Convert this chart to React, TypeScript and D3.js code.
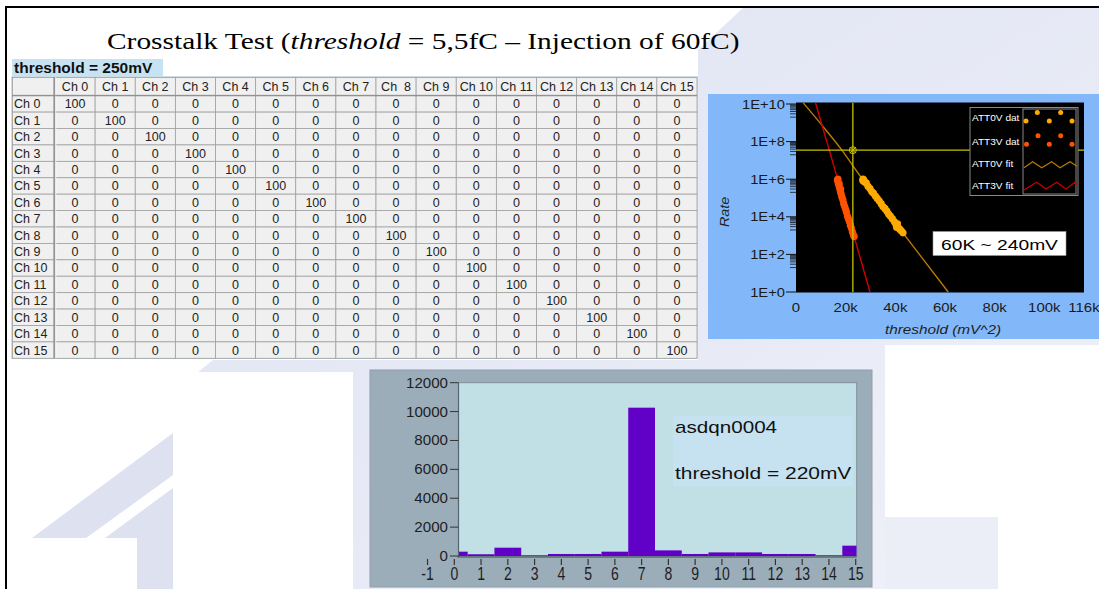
import React from 'react';
import * as d3 from 'd3';

const W = 1099;
const H = 589;

// ---------- Title ----------
const titleBefore = 'Crosstalk Test (';
const titleItalic = 'threshold';
const titleAfter = ' = 5,5fC – Injection of 60fC)';

// ---------- Crosstalk table ----------
const tableCaption = 'threshold = 250mV';
const rowLabels = ['Ch 0', 'Ch 1', 'Ch 2', 'Ch 3', 'Ch 4', 'Ch 5', 'Ch 6', 'Ch 7', 'Ch 8', 'Ch 9', 'Ch 10', 'Ch 11', 'Ch 12', 'Ch 13', 'Ch 14', 'Ch 15'];
const colLabels = ['Ch 0', 'Ch 1', 'Ch 2', 'Ch 3', 'Ch 4', 'Ch 5', 'Ch 6', 'Ch 7', 'Ch  8', 'Ch 9', 'Ch 10', 'Ch 11', 'Ch 12', 'Ch 13', 'Ch 14', 'Ch 15'];
const crosstalkMatrix: number[][] = [
  [100, 0, 0, 0, 0, 0, 0, 0, 0, 0, 0, 0, 0, 0, 0, 0],
  [0, 100, 0, 0, 0, 0, 0, 0, 0, 0, 0, 0, 0, 0, 0, 0],
  [0, 0, 100, 0, 0, 0, 0, 0, 0, 0, 0, 0, 0, 0, 0, 0],
  [0, 0, 0, 100, 0, 0, 0, 0, 0, 0, 0, 0, 0, 0, 0, 0],
  [0, 0, 0, 0, 100, 0, 0, 0, 0, 0, 0, 0, 0, 0, 0, 0],
  [0, 0, 0, 0, 0, 100, 0, 0, 0, 0, 0, 0, 0, 0, 0, 0],
  [0, 0, 0, 0, 0, 0, 100, 0, 0, 0, 0, 0, 0, 0, 0, 0],
  [0, 0, 0, 0, 0, 0, 0, 100, 0, 0, 0, 0, 0, 0, 0, 0],
  [0, 0, 0, 0, 0, 0, 0, 0, 100, 0, 0, 0, 0, 0, 0, 0],
  [0, 0, 0, 0, 0, 0, 0, 0, 0, 100, 0, 0, 0, 0, 0, 0],
  [0, 0, 0, 0, 0, 0, 0, 0, 0, 0, 100, 0, 0, 0, 0, 0],
  [0, 0, 0, 0, 0, 0, 0, 0, 0, 0, 0, 100, 0, 0, 0, 0],
  [0, 0, 0, 0, 0, 0, 0, 0, 0, 0, 0, 0, 100, 0, 0, 0],
  [0, 0, 0, 0, 0, 0, 0, 0, 0, 0, 0, 0, 0, 100, 0, 0],
  [0, 0, 0, 0, 0, 0, 0, 0, 0, 0, 0, 0, 0, 0, 100, 0],
  [0, 0, 0, 0, 0, 0, 0, 0, 0, 0, 0, 0, 0, 0, 0, 100],
];

// ---------- Rate vs threshold plot ----------
const rateXTicks = [0, 20000, 40000, 60000, 80000, 100000, 116000];
const rateXTickLabels = ['0', '20k', '40k', '60k', '80k', '100k', '116k'];
const rateYTicks = [1, 1e2, 1e4, 1e6, 1e8, 1e10];
const rateYTickLabels = ['1E+0', '1E+2', '1E+4', '1E+6', '1E+8', '1E+10'];
const rateXTitle = 'threshold (mV^2)';
const rateYTitle = 'Rate';
const legendNames = ['ATT0V dat', 'ATT3V dat', 'ATT0V fit', 'ATT3V fit'];
const rateNote = '60K ~ 240mV';
const crossThreshold = 22900;
const crossRate = 3.5e7;

const att0vData: [number, number][] = [
  [26900, 8.5e5], [27000, 1.0e6], [27300, 9.0e5], [27600, 7.1e5], [28300, 6.3e5], [29000, 4.2e5],
  [29800, 3.2e5], [30500, 2.2e5], [31200, 1.8e5], [32000, 1.26e5], [32700, 9.5e4], [33500, 7.1e4],
  [34300, 5.0e4], [35000, 3.5e4], [35800, 2.8e4], [36600, 2.0e4], [37300, 1.4e4], [38000, 1.1e4],
  [38800, 7.9e3], [39600, 5.6e3], [40200, 4.0e3], [40500, 2.8e3], [40900, 4.2e3], [41300, 2.5e3],
  [41800, 2.2e3], [42400, 1.8e3], [43100, 1.4e3],
];
const att3vData: [number, number][] = [
  [16700, 8.9e5], [16900, 1.0e6], [17000, 6.3e5], [17300, 4.5e5], [17400, 5.6e5], [17600, 3.2e5],
  [17900, 2.2e5], [18000, 3.0e5], [18200, 1.6e5], [18500, 1.1e5], [18900, 7.9e4], [19200, 5.0e4],
  [19600, 3.5e4], [20000, 2.5e4], [20300, 1.8e4], [20700, 1.1e4], [21100, 7.9e3], [21500, 5.6e3],
  [21900, 3.5e3], [22300, 2.5e3], [22700, 1.6e3], [23100, 1.1e3], [23400, 8.9e2],
];
const att0vFit: [number, number][] = [
  [2800, 1.2e10], [11700, 4.7e8], [18500, 3.5e7], [23000, 5.0e6], [27000, 9.1e5],
  [40000, 4.7e3], [50000, 8.9e1], [61300, 1],
];
const att3vFit: [number, number][] = [
  [7600, 1.5e10], [13500, 3.2e7], [17000, 7.9e5], [23400, 8.9e2], [29800, 1],
];

// ---------- Histogram ----------
const histChannels = [0, 1, 2, 3, 4, 5, 6, 7, 8, 9, 10, 11, 12, 13, 14, 15];
const histCounts = [300, 120, 575, 45, 140, 140, 300, 10270, 390, 140, 250, 250, 140, 140, 45, 715];
const histYTicks = [0, 2000, 4000, 6000, 8000, 10000, 12000];
const histXTicks = [-1, 0, 1, 2, 3, 4, 5, 6, 7, 8, 9, 10, 11, 12, 13, 14, 15];
const histNote1 = 'asdqn0004';
const histNote2 = 'threshold = 220mV';

const SANS = '"Liberation Sans", Arial, sans-serif';
const SERIF = '"Liberation Serif", "Times New Roman", serif';

function SText(props: any) {
  const { x, y, sx = 1, anchor = 'start', children, ...rest } = props;
  return (
    <text transform={`translate(${x},${y}) scale(${sx},1)`} textAnchor={anchor} {...rest}>
      {children}
    </text>
  );
}

export default function App() {
  // ---- table layout ----
  const tX0 = 12, tX1 = 697, firstColR = 55;
  const hdrY0 = 77, rowsY0 = 95.7, rowsY1 = 358.3;
  const colScale = d3.scaleBand<number>().domain(d3.range(16)).range([firstColR, tX1]);
  const rowScale = d3.scaleBand<number>().domain(d3.range(16)).range([rowsY0, rowsY1]);

  // ---- rate plot ----
  const pL = 796, pR = 1084, pT = 102.5, pB = 292.5;
  const xR = d3.scaleLinear().domain([0, 116000]).range([pL, pR]);
  const yR = d3.scaleLog().domain([1, 1e10]).range([292, 104]);
  const fitLine = d3.line<[number, number]>().x(d => xR(d[0])).y(d => yR(d[1])).curve(d3.curveMonotoneX);
  const minorTicks: number[] = [];
  rateYTicks.forEach(t => {
    if (t > 1) for (let k = 2; k <= 9; k++) minorTicks.push((k * t) / 10);
  });

  // ---- histogram ----
  const hL = 458.5, hR = 856.7, hT = 382.7, hB = 556;
  const xH = d3.scaleLinear().domain([0, 15]).range([454.3, 855.7]);
  const yH = d3.scaleLinear().domain([0, 12000]).range([556, 382.7]);

  return (
    <svg width={W} height={H} viewBox={`0 0 ${W} ${H}`} style={{ position: 'absolute', left: 0, top: 0, display: 'block' }}>
      <defs>
        <linearGradient id="lav" x1="0" y1="0" x2="1" y2="1">
          <stop offset="0" stopColor="#dfe3f2" />
          <stop offset="0.6" stopColor="#e8ebf6" />
          <stop offset="1" stopColor="#f1f2f9" />
        </linearGradient>
        <clipPath id="rateClip">
          <rect x={pL} y={pT} width={pR - pL} height={pB - pT} />
        </clipPath>
        <clipPath id="histClip">
          <rect x={hL} y={hT} width={hR - hL} height={hB - hT + 1} />
        </clipPath>
      </defs>

      {/* background */}
      <rect x={0} y={0} width={W} height={H} fill="#ffffff" />
      <polygon
        points="745,6 1099,6 1099,345 885,345 885,589 353,589 353,372 198,372 213,360 698,360 698,50"
        fill="url(#lav)"
      />
      <rect x={885} y={517} width={113} height={72} fill="#eceef7" />
      <polygon points="32,538 173,433 173,475 86,538" fill="#dde1f0" />
      <polygon points="105,538 173,488 173,589 137,589 137,538" fill="#dde1f0" />
      <line x1={6} y1={7} x2={W} y2={7} stroke="#000" strokeWidth={2} />
      <line x1={6} y1={6} x2={6} y2={H} stroke="#000" strokeWidth={2} />

      {/* title */}
      <SText x={107} y={49} sx={1.225} fontFamily={SERIF} fontSize={24} fill="#000">
        {titleBefore}
        <tspan fontStyle="italic">{titleItalic}</tspan>
        {titleAfter}
      </SText>

      {/* ---------- table ---------- */}
      <rect x={tX0} y={59} width={151} height={17} fill="#c7e3f3" />
      <text x={14} y={73} fontFamily={SANS} fontSize={15.5} fontWeight="bold" fill="#111">
        {tableCaption}
      </text>
      <rect x={tX0} y={hdrY0} width={tX1 - tX0} height={rowsY1 - hdrY0} fill="#f0f0f0" stroke="#a9c9d6" strokeWidth={1.2} />
      <rect x={tX0 + 0.5} y={hdrY0 + 0.5} width={firstColR - tX0 - 1} height={rowsY0 - hdrY0 - 1} fill="#f0f0f0" stroke="#a0a0a0" strokeWidth={0.8} />
      {colLabels.map((c, j) => (
        <g key={'h' + j}>
          <rect x={colScale(j)!} y={hdrY0 + 0.5} width={colScale.bandwidth()} height={rowsY0 - hdrY0 - 1} fill="#f0f0f0" stroke="#a0a0a0" strokeWidth={0.8} />
          <text x={colScale(j)! + colScale.bandwidth() / 2} y={rowsY0 - 4.5} textAnchor="middle" fontFamily={SANS} fontSize={12.5} fill="#222" style={{ whiteSpace: 'pre' }}>
            {c}
          </text>
        </g>
      ))}
      {rowLabels.map((r, i) => (
        <g key={'r' + i}>
          <rect x={tX0 + 0.5} y={rowScale(i)!} width={firstColR - tX0 - 1} height={rowScale.bandwidth()} fill="#f0f0f0" stroke="#a0a0a0" strokeWidth={0.8} />
          <text x={14} y={rowScale(i)! + rowScale.bandwidth() - 3.8} fontFamily={SANS} fontSize={12.5} fill="#222">
            {r}
          </text>
          {crosstalkMatrix[i].map((v, j) => (
            <g key={j}>
              <rect x={colScale(j)!} y={rowScale(i)!} width={colScale.bandwidth()} height={rowScale.bandwidth()} fill="#f0f0f0" stroke="#a0a0a0" strokeWidth={0.8} />
              <text x={colScale(j)! + colScale.bandwidth() / 2} y={rowScale(i)! + rowScale.bandwidth() - 3.8} textAnchor="middle" fontFamily={SANS} fontSize={12.5} fill="#222">
                {v}
              </text>
            </g>
          ))}
        </g>
      ))}
      <line x1={firstColR - 1} y1={hdrY0} x2={firstColR - 1} y2={rowsY1} stroke="#8a8a8a" strokeWidth={1.2} />
      <line x1={firstColR + 0.8} y1={hdrY0} x2={firstColR + 0.8} y2={rowsY1} stroke="#ffffff" strokeWidth={0.8} />
      <line x1={tX0} y1={rowsY0} x2={tX1} y2={rowsY0} stroke="#8a8a8a" strokeWidth={1} />

      {/* ---------- rate plot ---------- */}
      <rect x={708} y={94} width={W - 708} height={245} fill="#82b8f9" />
      <rect x={pL} y={pT} width={pR - pL} height={pB - pT} fill="#000" />
      {rateYTicks.map((t, i) => (
        <g key={'yt' + i}>
          <line x1={786} x2={pL} y1={yR(t)} y2={yR(t)} stroke="#111" strokeWidth={1} />
          <SText x={785} y={yR(t) + 4.5} sx={1.18} anchor="end" fontFamily={SANS} fontSize={12.5} fill="#1a1a1a">
            {rateYTickLabels[i]}
          </SText>
        </g>
      ))}
      {minorTicks.map((t, i) => (
        <line key={'mt' + i} x1={790} x2={pL} y1={yR(t)} y2={yR(t)} stroke="#111" strokeWidth={0.8} />
      ))}
      {rateXTicks.map((t, i) => (
        <SText key={'xt' + i} x={xR(t)} y={312} sx={1.15} anchor="middle" fontFamily={SANS} fontSize={13} fill="#1a1a1a">
          {rateXTickLabels[i]}
        </SText>
      ))}
      <SText x={943} y={334} sx={1.18} anchor="middle" fontFamily={SANS} fontSize={13} fontStyle="italic" fill="#222">
        {rateXTitle}
      </SText>
      <text transform="translate(729,212) rotate(-90) scale(1.1,1)" textAnchor="middle" fontFamily={SANS} fontSize={13} fontStyle="italic" fill="#222">
        {rateYTitle}
      </text>
      <g clipPath="url(#rateClip)">
        <path d={fitLine(att0vFit)!} fill="none" stroke="#b87a00" strokeWidth={1.4} />
        <path d={fitLine(att3vFit)!} fill="none" stroke="#d40000" strokeWidth={1.4} />
        {att3vData.map((d, i) => (
          <circle key={'a3' + i} cx={xR(d[0])} cy={yR(d[1])} r={3.6} fill="#ff5200" />
        ))}
        {att0vData.map((d, i) => (
          <circle key={'a0' + i} cx={xR(d[0])} cy={yR(d[1])} r={3.6} fill="#ffaa00" />
        ))}
        <line x1={pL} x2={pR} y1={yR(crossRate)} y2={yR(crossRate)} stroke="#c8c400" strokeWidth={1.3} />
        <line x1={xR(crossThreshold)} x2={xR(crossThreshold)} y1={pT} y2={pB} stroke="#c8c400" strokeWidth={1.3} />
        <circle cx={xR(crossThreshold)} cy={yR(crossRate)} r={3.5} fill="none" stroke="#c8c400" strokeWidth={1} />
        <path
          d={`M${xR(crossThreshold) - 3},${yR(crossRate) - 3}L${xR(crossThreshold) + 3},${yR(crossRate) + 3}M${xR(crossThreshold) - 3},${yR(crossRate) + 3}L${xR(crossThreshold) + 3},${yR(crossRate) - 3}`}
          stroke="#c8c400"
          strokeWidth={1}
        />
      </g>
      {/* legend */}
      <rect x={970} y={107.5} width={108} height={88} fill="#000" stroke="#8a8a8a" strokeWidth={1} />
      <rect x={1023} y={109} width={53} height={85} fill="none" stroke="#8a8a8a" strokeWidth={1} />
      {legendNames.map((n, i) => (
        <SText key={'lg' + i} x={972} y={[121, 144.5, 167, 189][i]} sx={1.12} fontFamily={SANS} fontSize={9} fill="#fff">
          {n}
        </SText>
      ))}
      {[[1026, 121], [1037.3, 112.5], [1049.3, 121], [1060.7, 112.5], [1072, 121]].map((p, i) => (
        <circle key={'ld0' + i} cx={p[0]} cy={p[1]} r={2.5} fill="#ffaa00" />
      ))}
      {[[1026.5, 144.3], [1038, 135.7], [1049.3, 144.3], [1060.7, 135.7], [1072, 144.3]].map((p, i) => (
        <circle key={'ld1' + i} cx={p[0]} cy={p[1]} r={2.5} fill="#ff5200" />
      ))}
      <polyline points="1024,167.7 1032.7,161.7 1041.7,167.7 1051.7,161.7 1060,167.7 1070,161.7 1077,166.3" fill="none" stroke="#b87a00" strokeWidth={1.2} />
      <polyline points="1024,190 1036.7,182.3 1046,189 1056.7,182.3 1066,189 1075,182.3 1077,185" fill="none" stroke="#c80000" strokeWidth={1.2} />
      <rect x={933} y={231.5} width={133} height={24} fill="#ffffff" stroke="#999" strokeWidth={0.6} />
      <SText x={999.5} y={249.5} sx={1.28} anchor="middle" fontFamily={SANS} fontSize={15} fill="#000">
        {rateNote}
      </SText>

      {/* ---------- histogram ---------- */}
      <rect x={370} y={370} width={502} height={217} fill="#9cadba" stroke="#8d9eab" strokeWidth={1} />
      <rect x={hL} y={hT} width={hR - hL} height={hB - hT} fill="#c0e0e6" stroke="#7f909c" strokeWidth={1} />
      <rect x={673} y={416} width={180} height={70} fill="#c6e2f0" />
      <g clipPath="url(#histClip)">
        {histChannels.map((c, i) => {
          const x0 = Math.max(xH(c - 0.5), hL);
          const x1 = Math.min(xH(c + 0.5), hR);
          return <rect key={'b' + i} x={x0} y={yH(histCounts[i])} width={x1 - x0} height={yH(0) - yH(histCounts[i])} fill="#6100c6" />;
        })}
      </g>
      <line x1={hL} x2={hL} y1={hT} y2={hB + 1} stroke="#55636e" strokeWidth={1.2} />
      <line x1={hL - 1} x2={hR} y1={hB + 1} y2={hB + 1} stroke="#3f4a54" strokeWidth={1.2} />
      {histYTicks.map((t, i) => (
        <g key={'hy' + i}>
          <line x1={450} x2={hL} y1={yH(t)} y2={yH(t)} stroke="#333" strokeWidth={1} />
          <SText x={448} y={yH(t) + 5} sx={1.08} anchor="end" fontFamily={SANS} fontSize={14} fill="#1e1e1e">
            {String(t)}
          </SText>
        </g>
      ))}
      {histXTicks.map((t, i) => (
        <g key={'hx' + i}>
          <line x1={xH(t)} x2={xH(t)} y1={559} y2={565} stroke="#333" strokeWidth={1.2} />
          <SText x={xH(t)} y={579.5} sx={0.78} anchor="middle" fontFamily={SANS} fontSize={18} fill="#1e1e1e">
            {String(t)}
          </SText>
        </g>
      ))}
      <SText x={675} y={432.5} sx={1.29} fontFamily={SANS} fontSize={16} fill="#111">
        {histNote1}
      </SText>
      <SText x={675} y={479} sx={1.31} fontFamily={SANS} fontSize={16} fill="#111">
        {histNote2}
      </SText>
    </svg>
  );
}
